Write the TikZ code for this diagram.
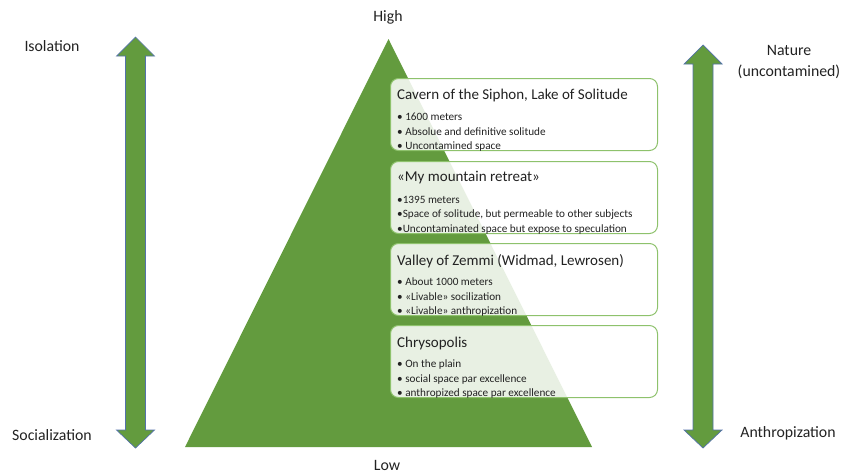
\documentclass[tikz,border=0pt]{standalone}
\usepackage{fontspec}
\setmainfont{Carlito}
\usepackage{xcolor}
\usetikzlibrary{positioning}
\pgfdeclarelayer{edgelayer}
\pgfdeclarelayer{nodelayer}
\pgfsetlayers{edgelayer,nodelayer,main}
\definecolor{pyramidgreen}{RGB}{99,155,62}
\definecolor{boxgreen}{RGB}{142,194,108}
\definecolor{arrowblue}{RGB}{84,114,170}
\definecolor{textgray}{RGB}{34,34,34}
\tikzstyle{levelbox}=[draw=boxgreen, line width=1pt, rounded corners=8pt, fill=white, fill opacity=0.86, minimum width=267pt, minimum height=72pt, anchor=north west, inner sep=0pt]
\tikzstyle{leveltitle}=[anchor=west, inner sep=0pt, font=\fontsize{15}{17}\selectfont, text=textgray]
\tikzstyle{levelitems}=[anchor=north west, inner sep=0pt, align=left, font=\fontsize{11.2}{14.5}\selectfont, text=textgray]
\tikzstyle{axislabel}=[inner sep=0pt, font=\fontsize{15.8}{21}\selectfont, text=textgray, align=center]
\tikzstyle{bigarrow}=[fill=pyramidgreen, draw=arrowblue, line width=0.7pt, line join=miter]
\tikzstyle{none}=[inner sep=0pt]
\newcommand{\axisarrow}[3]{%
  \draw [style=bigarrow] ({#1},{#2}) -- ++(19,19) -- ++(-9,0) -- ({#1+10},{#3-18})
    -- ++(9,0) -- ({#1},{#3}) -- ++(-19,-18) -- ++(9,0) -- ({#1-10},{#2+19})
    -- ++(-9,0) -- cycle;}

\begin{document}
\begin{tikzpicture}[x=1pt, y=-1pt]
	\useasboundingbox (0,0) rectangle (845,475);
	\begin{pgfonlayer}{edgelayer}
		\coordinate (top) at (388.5,39);
		\coordinate (BL) at (185,447);
		\coordinate (BR) at (592,447);
		\fill [pyramidgreen] (top) -- (BL) -- (BR) -- cycle;
	\end{pgfonlayer}
	\begin{pgfonlayer}{nodelayer}
		\node [style=axislabel] (high) at (388,17) {High};
		\node [style=axislabel] (low) at (387,465) {Low};
		\node [style=axislabel] (isol) at (52,46) {Isolation};
		\node [style=axislabel] (soc) at (52,435) {Socialization};
		\node [style=axislabel] (nat) at (789,62) {Nature\\(uncontamined)};
		\node [style=axislabel] (anth) at (788,433) {Anthropization};

		% levels, from top to bottom
		\node [style=levelbox] (L1) at (390,78) {};
		\node [style=leveltitle] (L1t) at (397,95.5) {Cavern of the Siphon, Lake of Solitude};
		\node [style=levelitems] (L1i) at (397,113) {• 1600 meters\\• Absolue and definitive solitude\\• Uncontamined space};

		\node [style=levelbox] (L2) at (390,161) {};
		\node [style=leveltitle] (L2t) at (397,178) {«My mountain retreat»};
		\node [style=levelitems] (L2i) at (397,196) {•1395 meters\\•Space of solitude, but permeable to other subjects\\•Uncontaminated space but expose to speculation};

		\node [style=levelbox] (L3) at (390,243) {};
		\node [style=leveltitle] (L3t) at (397,261) {Valley of Zemmi (Widmad, Lewrosen)};
		\node [style=levelitems] (L3i) at (397,278) {• About 1000 meters\\• «Livable» socilization\\• «Livable» anthropization};

		\node [style=levelbox] (L4) at (390,325) {};
		\node [style=leveltitle] (L4t) at (397,343) {Chrysopolis};
		\node [style=levelitems] (L4i) at (397,360) {• On the plain\\• social space par excellence\\• anthropized space par excellence};
	\end{pgfonlayer}
	\axisarrow{135.5}{37}{448}
	\axisarrow{703}{45}{448}
\end{tikzpicture}
\end{document}
